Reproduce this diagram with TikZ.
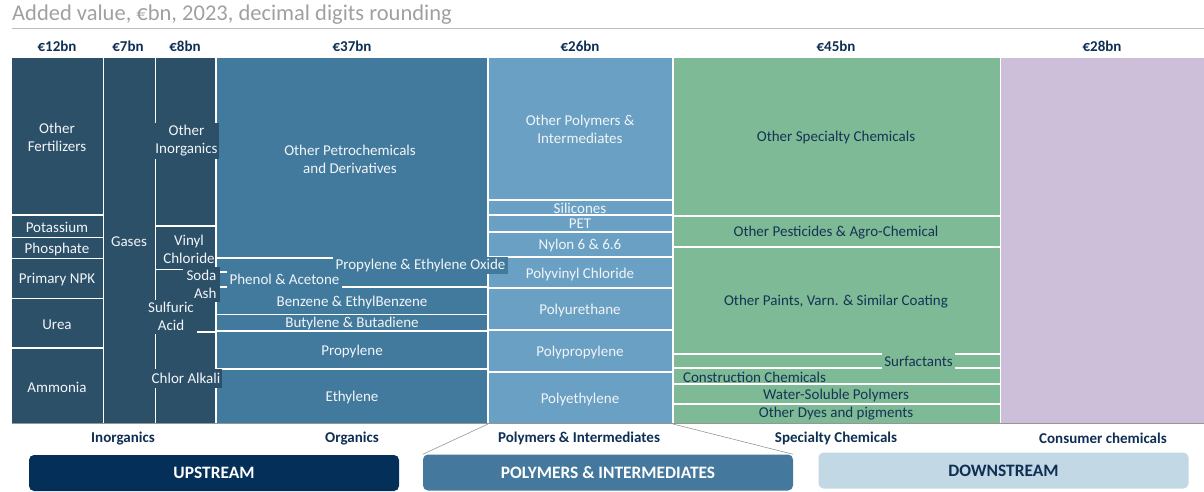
\documentclass[tikz,border=0pt]{standalone}
\usepackage{fontspec}
\setmainfont{Carlito}
\definecolor{inorg}{RGB}{45,80,105}
\definecolor{org}{RGB}{66,122,158}
\definecolor{poly}{RGB}{106,160,195}
\definecolor{spec}{RGB}{126,186,149}
\definecolor{cons}{RGB}{205,191,217}
\definecolor{navy}{RGB}{14,46,84}
\definecolor{titlegrey}{RGB}{160,160,160}
\definecolor{axisgrey}{RGB}{150,150,150}
\definecolor{txtw}{RGB}{242,245,248}
\definecolor{spectxt}{RGB}{20,52,86}
\definecolor{upbox}{RGB}{4,47,88}
\definecolor{polybox}{RGB}{68,120,156}
\definecolor{downbox}{RGB}{195,216,229}
\tikzset{
  sep/.style={draw=white, line width=1.4pt},
  lbl/.style={text=txtw, font=\fontsize{15}{18}\selectfont, align=center, inner sep=0pt},
  glbl/.style={text=spectxt, font=\fontsize{15}{18}\selectfont, align=center, inner sep=0pt},
  hdr/.style={text=navy, font=\bfseries\fontsize{15}{17}\selectfont, inner sep=0pt},
  cat/.style={text=navy, font=\bfseries\fontsize{15}{17}\selectfont, inner sep=0pt},
  bigbox/.style={rounded corners=5pt, minimum width=370, minimum height=36, font=\bfseries\fontsize{17.4}{19}\selectfont, inner sep=0pt},
  conn/.style={draw=axisgrey, line width=0.6pt}
}
\begin{document}
\begin{tikzpicture}[x=1pt,y=-1pt]
\useasboundingbox (0,0) rectangle (1204,492);
% title
\node[anchor=west, text=titlegrey, font=\fontsize{22.5}{25}\selectfont, inner sep=0pt] (title) at (12,15) {Added value, €bn, 2023, decimal digits rounding};
\draw[draw=titlegrey!70, line width=1pt] (12,29) -- (1204,29);
% headers
\node[hdr] (h1) at (57,46) {€12bn};
\node[hdr] (h2) at (128,46) {€7bn};
\node[hdr] (h3) at (185,46) {€8bn};
\node[hdr] (h4) at (352,46) {€37bn};
\node[hdr] (h5) at (580,46) {€26bn};
\node[hdr] (h6) at (836,46) {€45bn};
\node[hdr] (h7) at (1102,46) {€28bn};
% columns
\fill[inorg] (12,58) rectangle (216,423);
\fill[org] (216,58) rectangle (488,423);
\fill[poly] (488,58) rectangle (673,423);
\fill[spec] (673,58) rectangle (1000,423);
\fill[cons] (1000,58) rectangle (1204,423);
% vertical separators
\foreach \x in {103.5,155.5,216,488,673,1000.5} \draw[sep] (\x,58) -- (\x,423);
% col1 horizontal
\foreach \y in {215,237.5,258.5,298.5,348} \draw[sep] (12,\y) -- (103.5,\y);
% col3 horizontal
\foreach \y in {226,269.5,332} \draw[sep] (155.5,\y) -- (216,\y);
% col4 horizontal
\foreach \y in {258,272,287,314.5,331,369} \draw[sep] (216,\y) -- (488,\y);
% col5 horizontal
\foreach \y in {200,215,232,257,288,330,372} \draw[sep] (488,\y) -- (673,\y);
% col6 horizontal
\foreach \y in {216,247,354,368,384,404} \draw[sep] (673,\y) -- (1000,\y);
% axis
\draw[draw=axisgrey, line width=1.2pt] (12,423.5) -- (1204,423.5);
% col1 labels
\node[lbl] (ofert) at (57,137) {Other\\Fertilizers};
\node[lbl] (potas) at (57,227) {Potassium};
\node[lbl] (phos) at (57,249) {Phosphate};
\node[lbl] (npk) at (57,280) {Primary NPK};
\node[lbl] (urea) at (57,325) {Urea};
\node[lbl] (ammo) at (57,387) {Ammonia};
% col2
\node[lbl] (gases) at (129,242) {Gases};
% col3
\node[lbl, fill=inorg, minimum width=65, minimum height=36] (oinorg) at (186.5,141) {Other\\Inorganics};
\node[lbl] (vinyl) at (189,249.5) {Vinyl\\Chloride};
\node[lbl, fill=inorg, minimum width=37, minimum height=35, align=right] (soda) at (201.5,284) {Soda\\\hfill Ash};
\node[lbl, fill=inorg, minimum width=52, minimum height=34] (sulf) at (171,316.5) {Sulfuric\\Acid};
\node[lbl, fill=inorg, minimum width=72, minimum height=19] (chlor) at (186,378) {Chlor Alkali};
% col4
\node[lbl] (opetro) at (350,159) {Other Petrochemicals\\and Derivatives};
\node[lbl, fill=org, minimum width=175, minimum height=17] (peo) at (420.5,265) {Propylene \& Ethylene Oxide};
\node[lbl, fill=org, minimum width=115, minimum height=16.5] (phenol) at (284.5,279.5) {Phenol \& Acetone};
\node[lbl] (benz) at (352,302) {Benzene \& EthylBenzene};
\node[lbl] (buty) at (352,323.5) {Butylene \& Butadiene};
\node[lbl] (propy) at (352,351) {Propylene};
\node[lbl] (ethy) at (352,397) {Ethylene};
% col5
\node[lbl] (opoly) at (580,129) {Other Polymers \&\\Intermediates};
\node[lbl] (sili) at (580,208) {Silicones};
\node[lbl] (pet) at (580,224) {PET};
\node[lbl] (nylon) at (580,245) {Nylon 6 \& 6.6};
\node[lbl] (pvc) at (580,274) {Polyvinyl Chloride};
\node[lbl] (pur) at (580,310) {Polyurethane};
\node[lbl] (pp) at (580,352) {Polypropylene};
\node[lbl] (pe) at (580,399) {Polyethylene};
% col6
\node[glbl] (ospec) at (836,138) {Other Specialty Chemicals};
\node[glbl] (pest) at (836,233) {Other Pesticides \& Agro-Chemical};
\node[glbl] (paint) at (836,302) {Other Paints, Varn. \& Similar Coating};
\node[glbl, fill=spec, minimum width=73, minimum height=16] (surf) at (918.5,361) {Surfactants};
\node[glbl] (constr) at (754.5,377) {Construction Chemicals};
\node[glbl] (water) at (836,395) {Water-Soluble Polymers};
\node[glbl] (dyes) at (836,414) {Other Dyes and pigments};
% categories
\node[cat] (c1) at (123,438.5) {Inorganics};
\node[cat] (c2) at (352,438.5) {Organics};
\node[cat] (c3) at (579,438.5) {Polymers \& Intermediates};
\node[cat] (c4) at (836,438.5) {Specialty Chemicals};
\node[cat] (c5) at (1103,438.5) {Consumer chemicals};
% bottom boxes
\node[bigbox, fill=upbox, text=white] (up) at (214,473) {UPSTREAM};
\node[bigbox, fill=polybox, text=white] (pi) at (608,472.5) {POLYMERS \& INTERMEDIATES};
\node[bigbox, fill=downbox, text=navy] (down) at (1003.5,470.5) {DOWNSTREAM};
% connectors
\coordinate (pl) at (488,424);
\coordinate (pr) at (673,424);
\draw[conn] (pl) -- (pi.north west);
\draw[conn] (pr) -- (pi.north east);
\end{tikzpicture}
\end{document}
